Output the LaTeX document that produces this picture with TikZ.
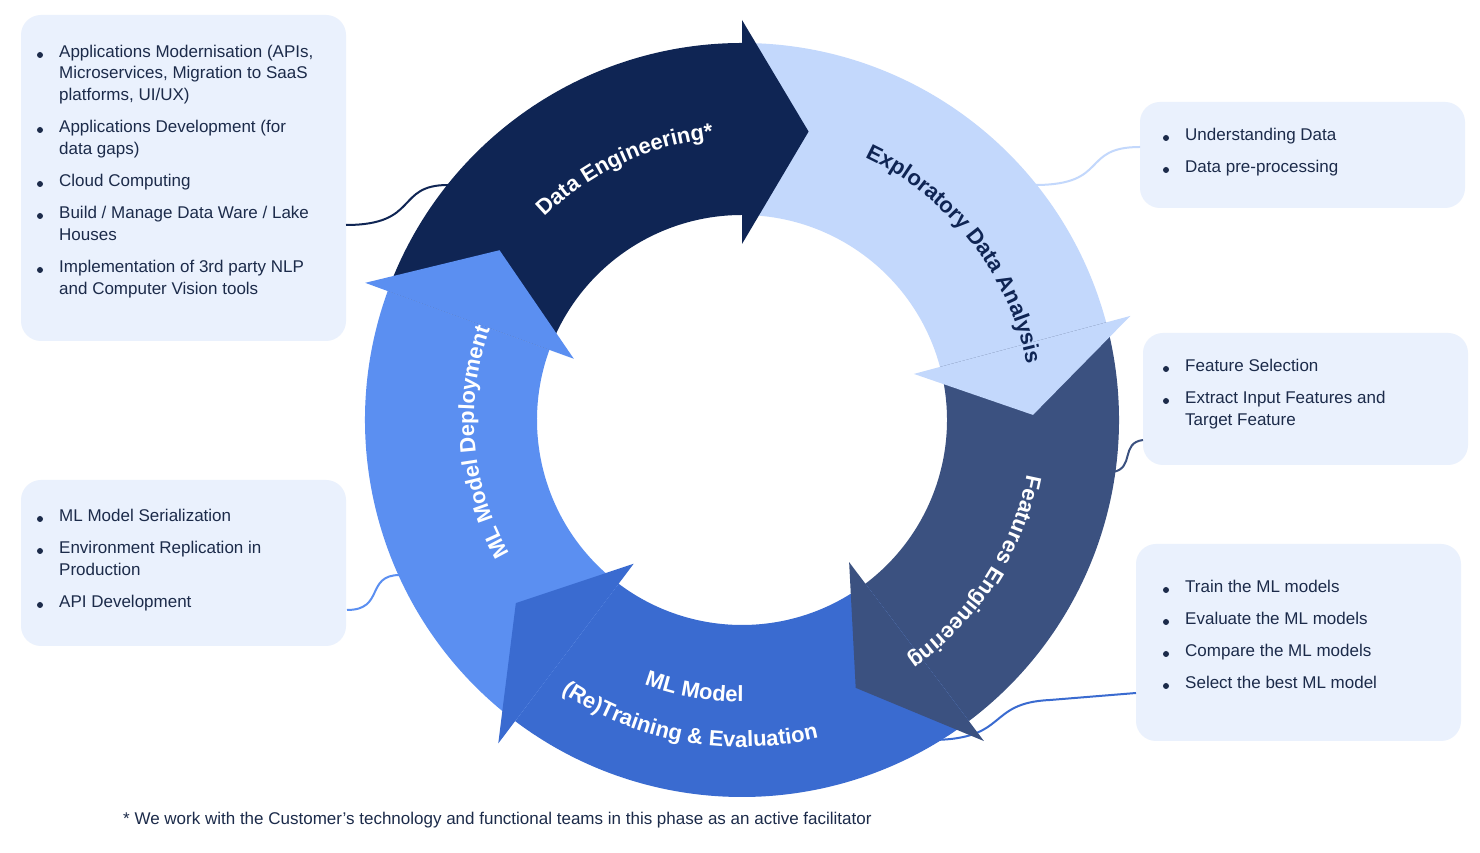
\documentclass[tikz,border=0pt]{standalone}
\usepackage{fontspec}
\setmainfont{Liberation Sans}
\usetikzlibrary{decorations.text}
\definecolor{cDE}{HTML}{0F2554}
\definecolor{cEDA}{HTML}{C3D8FC}
\definecolor{cFE}{HTML}{3B5180}
\definecolor{cTR}{HTML}{3A6BD0}
\definecolor{cDP}{HTML}{5B8FF1}
\definecolor{cBox}{HTML}{EAF1FD}
\definecolor{cTxt}{HTML}{1C2B4A}
\newcommand\bitem[4]{\node[bul] (#1b) at (#2,#3) {}; \node[itm] (#1) at (#2+19,#3) {#4};}
\newcommand\contline[4]{\node[itm] (#1) at (#2+19,#3) {#4};}
\begin{document}
\begin{tikzpicture}[x=1pt,y=1pt,
  box/.style={draw=none,fill=cBox,rounded corners=20pt,minimum width=325pt,inner sep=0},
  bul/.style={circle,fill=cTxt,inner sep=0,minimum size=6pt},
  itm/.style={anchor=mid west,inner sep=0,font=\fontsize{17}{20}\selectfont,text=cTxt},
  conn/.style={line width=2pt},
  lbl/.style={decorate,decoration={text along path,text align=center,text color=#1}}]
\useasboundingbox (0,0) rectangle (1480,853);
\fill[white] (0,0) rectangle (1480,853);
% boxes
\node[box,minimum height=326pt] (b1) at (183.5,675) {};
\node[box,minimum height=106pt] (b2) at (1302.5,698) {};
\node[box,minimum height=132pt] (b3) at (1305.5,454) {};
\node[box,minimum height=197pt] (b4) at (1298.5,210.5) {};
\node[box,minimum height=166pt] (b5) at (183.5,290) {};
% connectors
\coordinate (c1a) at (346,628); \coordinate (c1b) at (448,668);
\draw[conn,cDE] (c1a) .. controls (420,628) and (395,668) .. (c1b);
\coordinate (c2a) at (1035,668); \coordinate (c2b) at (1140,706);
\draw[conn,cEDA] (c2a) .. controls (1110,668) and (1080,706) .. (c2b);
\coordinate (c3a) at (1113,381); \coordinate (c3b) at (1143,413);
\draw[conn,cFE] (c3a) .. controls (1135,385) and (1120,410) .. (c3b);
\coordinate (c4a) at (930,113); \coordinate (c4b) at (1050,153); \coordinate (c4c) at (1136,160);
\draw[conn,cTR] (c4a) .. controls (1010,113) and (985,150) .. (c4b) -- (c4c);
\coordinate (c5a) at (347,243); \coordinate (c5b) at (400,278);
\draw[conn,cDP] (c5a) .. controls (385,243) and (365,278) .. (c5b);
% ring
\begin{scope}[shift={(742,433)}]
\fill[cDE] (160:377) arc (160:90:377) -- (90:205) arc (90:160:205) -- cycle;
\fill[cEDA] (90:377) arc (90:15:377) -- (15:205) arc (15:90:205) -- cycle;
\fill[cFE] (15:377) arc (15:-53:377) -- (-53:205) arc (-53:15:205) -- cycle;
\fill[cTR] (-53:377) arc (-53:-127:377) -- (-127:205) arc (-127:-53:205) -- cycle;
\fill[cDP] (-127:377) arc (-127:-200:377) -- (-200:205) arc (-200:-127:205) -- cycle;
\fill[cDE] (90:400) -- (77:296) -- (90:176) -- cycle;
\fill[cEDA] (15:402) -- (1:291) -- (15:178) -- cycle;
\fill[cFE] (-53:402) -- (-67:291) -- (-53:178) -- cycle;
\fill[cTR] (-127:405) -- (-141:291) -- (-127:180) -- cycle;
\fill[cDP] (160:401) -- (145:296) -- (160:179) -- cycle;
\path[lbl=white,decoration={text={|\fontsize{22}{22}\selectfont\bfseries|Data Engineering*}}] (150:283) arc (150:80:283);
\path[lbl=cDE,decoration={text={|\fontsize{22}{22}\selectfont\bfseries|Exploratory Data Analysis}}] (80:290) arc (80:-4:290);
\path[lbl=white,decoration={text={|\fontsize{22}{22}\selectfont\bfseries|Features Engineering}}] (5:290) arc (5:-71:290);
\path[lbl=white,decoration={text={|\fontsize{22}{22}\selectfont\bfseries|ML Model}}] (-140:282) arc (-140:-60:282);
\path[lbl=white,decoration={text={|\fontsize{22}{22}\selectfont\bfseries|(Re)Training {\&} Evaluation}}] (-145:327) arc (-145:-55:327);
\path[lbl=white,decoration={text={|\fontsize{22}{22}\selectfont\bfseries|ML Model Deployment}}] (222:268) arc (222:148:268);
\end{scope}
% box 1
\bitem{a1}{40}{798}{Applications Modernisation (APIs,}
\contline{a1x}{40}{777}{Microservices, Migration to SaaS}
\contline{a1y}{40}{755}{platforms, UI/UX)}
\bitem{a2}{40}{723}{Applications Development (for}
\contline{a2x}{40}{701}{data gaps)}
\bitem{a3}{40}{669}{Cloud Computing}
\bitem{a4}{40}{637}{Build / Manage Data Ware / Lake}
\contline{a4x}{40}{615}{Houses}
\bitem{a5}{40}{583}{Implementation of 3rd party NLP}
\contline{a5x}{40}{561}{and Computer Vision tools}
% box 2
\bitem{d1}{1166}{715}{Understanding Data}
\bitem{d2}{1166}{683}{Data pre-processing}
% box 3
\bitem{f1}{1166}{484}{Feature Selection}
\bitem{f2}{1166}{452}{Extract Input Features and}
\contline{f2x}{1166}{430}{Target Feature}
% box 4
\bitem{t1}{1166}{263}{Train the ML models}
\bitem{t2}{1166}{231}{Evaluate the ML models}
\bitem{t3}{1166}{199}{Compare the ML models}
\bitem{t4}{1166}{167}{Select the best ML model}
% box 5
\bitem{m1}{40}{334}{ML Model Serialization}
\bitem{m2}{40}{302}{Environment Replication in}
\contline{m2x}{40}{280}{Production}
\bitem{m3}{40}{248}{API Development}
% footnote
\node[itm] (fn) at (123,31) {* We work with the Customer’s technology and functional teams in this phase as an active facilitator};
\end{tikzpicture}
\end{document}
